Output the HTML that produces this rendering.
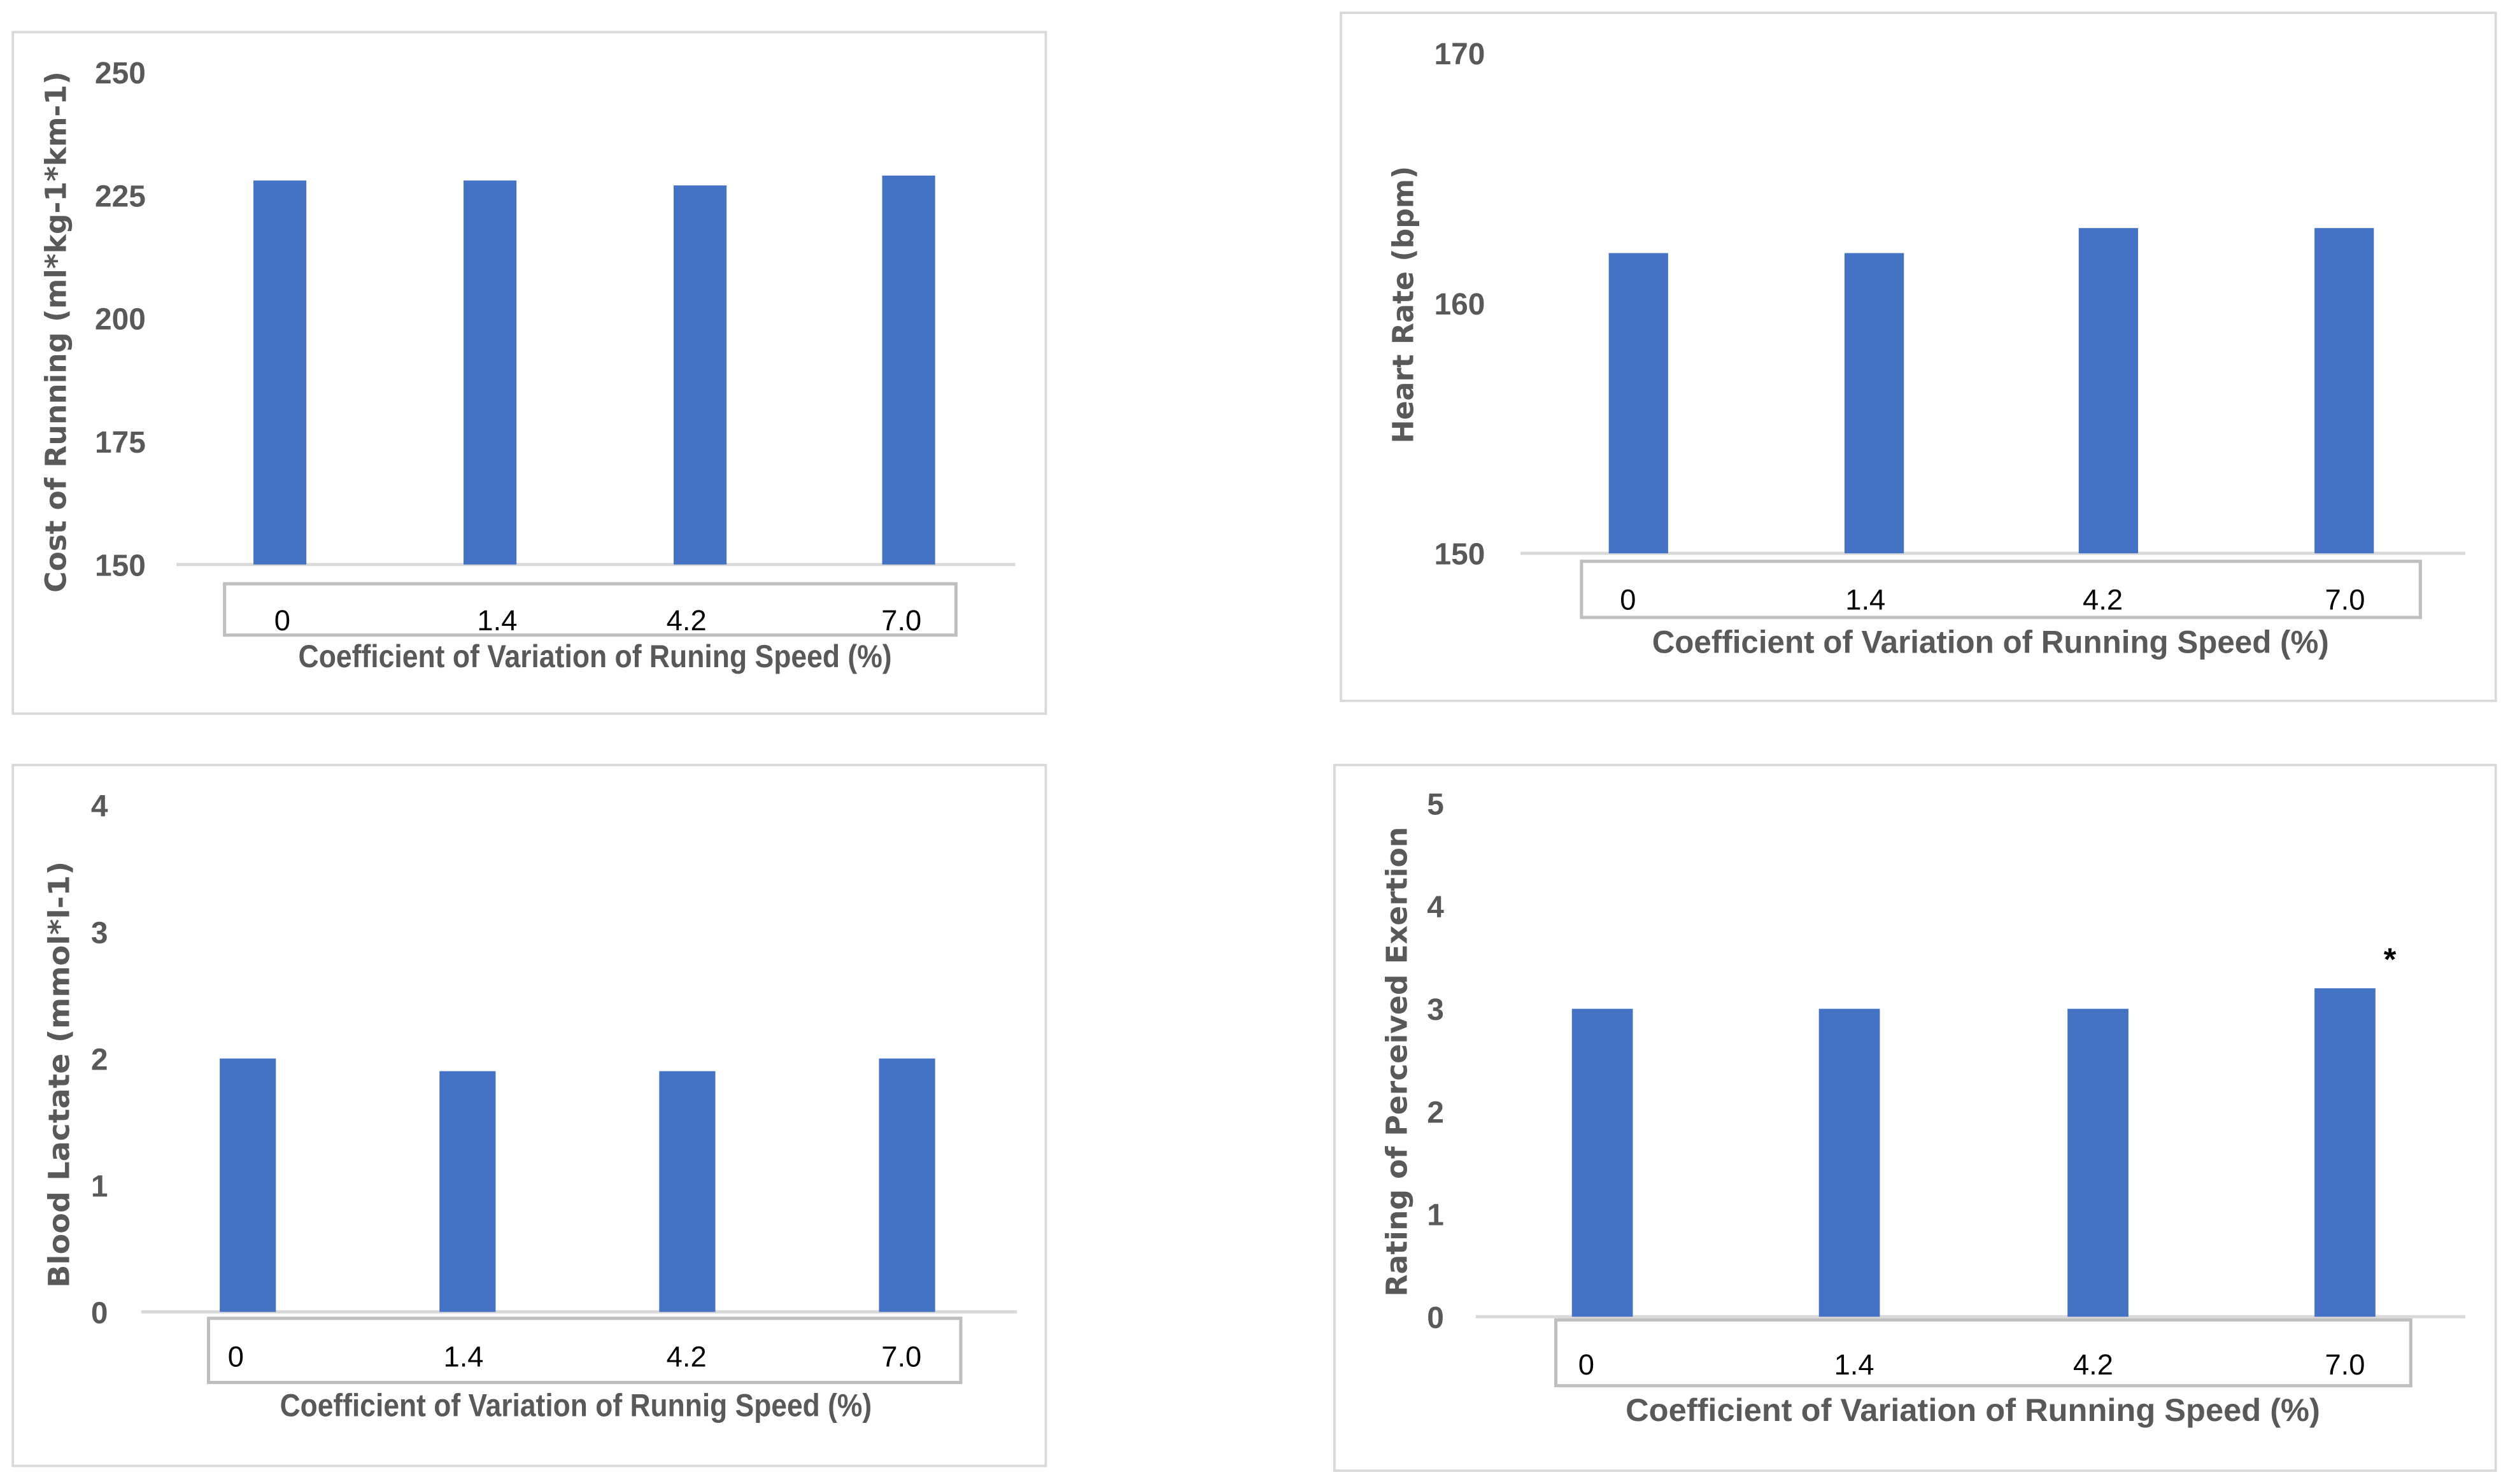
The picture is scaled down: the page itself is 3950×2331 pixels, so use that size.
<!DOCTYPE html>
<html><head><meta charset="utf-8">
<style>
html,body{margin:0;padding:0;background:#fff;}
svg{display:block;}
.tick{font-family:"Liberation Sans Narrow","Liberation Sans",sans-serif;font-weight:bold;fill:#595959;font-size:19px;}
.cat{font-family:"Liberation Sans Narrow","Liberation Sans",sans-serif;fill:#000;font-size:18px;}
.xt{font-family:"Liberation Sans Narrow","Liberation Sans",sans-serif;font-weight:bold;fill:#595959;font-size:20px;}
.yt{font-family:"DejaVu Sans",sans-serif;font-weight:bold;fill:#595959;font-size:18px;}
</style></head>
<body>
<svg id="c" width="3950" height="2331" viewBox="0 0 1568 925.3" preserveAspectRatio="none" xmlns="http://www.w3.org/2000/svg"></svg>
<script>
const categories = ["0", "1.4", "4.2", "7.0"];
const costValues = [228, 228, 227, 229];
const costTicks = [150, 175, 200, 225, 250];
const hrValues = [162, 162, 163, 163];
const hrTicks = [150, 160, 170];
const lactateValues = [2.0, 1.9, 1.9, 2.0];
const lactateTicks = [0, 1, 2, 3, 4];
const rpeValues = [3.0, 3.0, 3.0, 3.2];
const rpeTicks = [0, 1, 2, 3, 4, 5];

const NS = "http://www.w3.org/2000/svg";
const svg = document.getElementById('c');
function mk(tag, attrs, parent, text){
  const e = document.createElementNS(NS, tag);
  for (const k in attrs) e.setAttribute(k, attrs[k]);
  if (text !== undefined) e.textContent = text;
  parent.appendChild(e);
  return e;
}
function panel(p){
  const g = mk('g', {}, svg);
  
  
  const fr = mk('rect', {x:p.frame[0], y:p.frame[1], width:p.frame[2]-p.frame[0], height:p.frame[3]-p.frame[1], fill:'#fff', stroke:'#d9d9d9', 'stroke-width':1.5}, g);
  
  
  const min = p.ticks[0], max = p.ticks[p.ticks.length-1];
  const y = v => p.y0 + (v - min) / (max - min) * (p.yTop - p.y0);
  p.ticks.forEach(t => {
    const tl = mk('text', {x:p.tickX, y:y(t)+7, 'text-anchor':'middle', class:'tick'}, g, String(t));
    
    
  });
  const ax = mk('line', {x1:p.axis[0], x2:p.axis[1], y1:p.y0, y2:p.y0, stroke:'#d9d9d9', 'stroke-width':2}, g);
  
  
  p.values.forEach((v, i) => {
    const x = p.barX[i];
    const b = mk('rect', {x:x, y:y(v), width:p.barW, height:p.y0 - y(v), fill:'#4472c4'}, g);
    
    
  });
  const bx = mk('rect', {x:p.box[0], y:p.box[1], width:p.box[2]-p.box[0], height:p.box[3]-p.box[1], fill:'none', stroke:'#bfbfbf', 'stroke-width':2}, g);
  
  
  categories.forEach((c, i) => {
    const t = mk('text', {x:p.catX[i], y:p.catY, 'text-anchor':'middle', class:'cat'}, g, c);
    
    
  });
  const xt = mk('text', {x:p.xTitle[0], y:p.xTitle[1], 'text-anchor':'middle', class:'xt', textLength:p.xLen, lengthAdjust:'spacingAndGlyphs'}, g, p.xLabel);
  
  
  const yt = mk('text', {x:0, y:0, 'text-anchor':'middle', class:'yt', textLength:p.yLen, lengthAdjust:'spacingAndGlyphs', transform:'translate(' + p.yTitle[0] + ',' + p.yTitle[1] + ') rotate(-90)'}, g, p.yLabel);
  
  
  if (p.star) {
    const s = mk('text', {x:p.star[0], y:p.star[1], 'text-anchor':'middle', style:'font:bold 20px "Liberation Sans",sans-serif;fill:#000'}, g, '*');
    
    
  }
}
panel({name:'cost-of-running-chart', frame:[8,20,652,445], ticks:costTicks, values:costValues, y0:352, yTop:45, tickX:75,
  axis:[110,633], barX:[158,289,420,550], barW:33, box:[140,364,596,396], catX:[176,310,428,562], catY:393,
  xTitle:[371,416], xLen:370, xLabel:'Coefficient of Variation of Runing Speed (%)', yTitle:[41,207], yLen:325, yLabel:'Cost of Running (ml*kg-1*km-1)'});
panel({name:'heart-rate-chart', frame:[836,8,1556,437], ticks:hrTicks, values:hrValues, y0:345, yTop:33, tickX:910,
  axis:[948,1537], barX:[1003,1150,1296,1443], barW:37, box:[986,350,1509,385], catX:[1015,1163,1311,1462], catY:380,
  xTitle:[1241,407], xLen:422, xLabel:'Coefficient of Variation of Running Speed (%)', yTitle:[881,190], yLen:173, yLabel:'Heart Rate (bpm)'});
panel({name:'blood-lactate-chart', frame:[8,477,652,914], ticks:lactateTicks, values:lactateValues, y0:818, yTop:502, tickX:62,
  axis:[88,634], barX:[137,274,411,548], barW:35, box:[130,822,599,862], catX:[147,289,428,562], catY:852,
  xTitle:[359,883], xLen:369, xLabel:'Coefficient of Variation of Runnig Speed (%)', yTitle:[43,670], yLen:266, yLabel:'Blood Lactate (mmol*l-1)'});
panel({name:'perceived-exertion-chart', frame:[832,477,1556,917], ticks:rpeTicks, values:rpeValues, y0:821, yTop:501, tickX:895,
  axis:[920,1537], barX:[980,1134,1289,1443], barW:38, box:[970,823,1503,864], catX:[989,1156,1305,1462], catY:857,
  xTitle:[1230,886], xLen:433, xLabel:'Coefficient of Variation of Running Speed (%)', yTitle:[877,662], yLen:293, yLabel:'Rating of Perceived Exertion',
  star:[1490,605]});
</script>
</body></html>
